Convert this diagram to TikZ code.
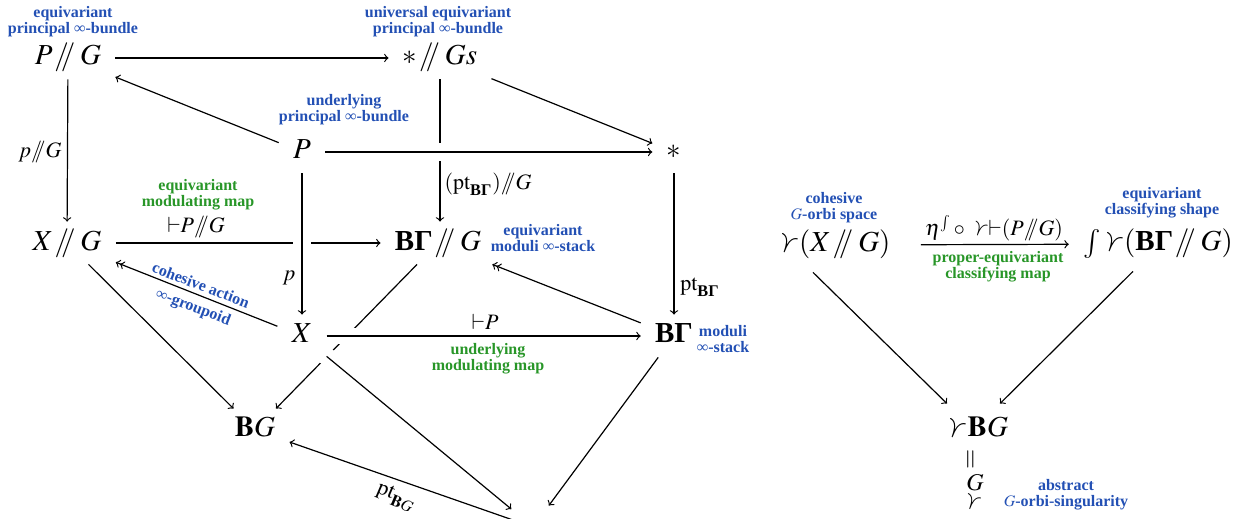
\documentclass[tikz,border=0pt]{standalone}
\usepackage{amsmath}
\usepackage{mathptmx}
\usepackage[no-math]{fontspec}
\setmainfont{Liberation Serif}
\usepackage{graphicx}
\usetikzlibrary{calc}
\definecolor{lblue}{RGB}{35,80,180}
\definecolor{lgreen}{RGB}{40,150,40}
\newcommand{\orbi}{\mathord{\rotatebox[origin=c]{70}{$\prec$}}}
\newcommand{\hq}{\mathord{\mkern1mu/\mkern-5mu/\mkern3mu}}
\newcommand{\hqs}{\mathord{/\mkern-6mu/}}
\newcommand{\BGam}{\text{\bfseries BΓ}}
\newcommand{\vd}{\mathord{\vdash}}
\begin{document}
\begin{tikzpicture}[x=0.5pt,y=-0.5pt,
  obj/.style={font=\fontsize{14.5}{17}\selectfont, inner xsep=7pt, inner ysep=4pt, text height=10pt, text depth=3pt},
  lbl/.style={font=\fontsize{11}{13}\selectfont, inner sep=0pt},
  bnote/.style={text=lblue, font=\fontsize{8}{8}\selectfont\bfseries, align=center, inner sep=0pt},
  gnote/.style={bnote, text=lgreen},
  arr/.style={->, line width=0.6pt},
  arrr/.style={->>, line width=0.6pt},
  xover/.style={preaction={draw, white, line width=#1, -}},
  xover/.default=9pt]
\useasboundingbox (0,0) rectangle (1239,519);
% objects
\node[obj] (PG) at (68,58) {$P\hq G$};
\node[obj] (sG) at (440,58) {$*\hq Gs$};
\node[obj] (P) at (302,152) {$P$};
\node[obj] (st) at (674,152) {$*$};
\node[obj] (XG) at (67,243) {$X\hq G$};
\node[obj] (BGG) at (438,243) {$\BGam\hq G$};
\node[obj] (X) at (302,336) {$X$};
\node[obj] (BGa) at (674,336) {$\BGam$};
\node[obj] (BG) at (255,430) {$\mathbf{B}G$};
\node[obj] (pt) at (533,527) {$*$};
% connectors
\draw[arr] (PG) -- (sG);
\draw[arr] (P) -- (PG);
\draw[arr] (sG) -- (sG |- BGG.north);
\draw[arr, xover] (P) -- (st);
\draw[arr] (sG) -- (st);
\draw[arr] (PG) -- (XG);
\draw[arr] (XG) -- (BGG);
\draw[arr, xover] (P) -- (X);
\draw[arrr] (X) -- (XG);
\draw[arr] (st) -- (BGa);
\draw[arr] (BGG) -- (BG);
\draw[arr, xover=8pt] (X) -- (BGa);
\draw[arr, preaction={draw, white, line width=9pt, -, shorten <=-3pt}] (X) -- (pt);
\draw[arrr] (BGa) -- (BGG);
\draw[arr] (XG) -- (BG);
\draw[arr] (BGa) -- (pt);
\draw[arr] (pt) -- (BG);
% arrow labels
\node[lbl] (l1) at (40,152) {$p\hqs G$};
\node[lbl] (l2) at (488,184) {$(\mathrm{pt}_{\BGam})\hqs G$};
\node[lbl] (l3) at (196,227) {$\vd P\hqs G$};
\node[lbl] (l4) at (289,278) {$p$};
\node[lbl] (l5) at (700,287) {$\mathrm{pt}_{\BGam}$};
\node[lbl] (l6) at (485,322) {$\vd P$};
\node[lbl, rotate=-23] (l7) at (396,497) {$\mathrm{pt}_{\mathbf{B}G}$};
% notes
\node[bnote] (n1) at (73,22) {equivariant\\principal ∞-bundle};
\node[bnote] (n2) at (438,22) {universal equivariant\\principal ∞-bundle};
\node[bnote] (n3) at (344,110) {underlying\\principal ∞-bundle};
\node[gnote] (n4) at (198,195) {equivariant\\modulating map};
\node[bnote] (n5) at (543,238) {equivariant\\moduli ∞-stack};
\node[bnote] (n6) at (723,339) {moduli\\∞-stack};
\node[bnote, rotate=-21] (n7a) at (201,285) {cohesive action};
\node[bnote, rotate=-21] (n7b) at (193,308) {∞-groupoid};
\node[gnote] (n8) at (488,359) {underlying\\modulating map};
% right part
\node[bnote] (n9) at (834,208) {cohesive\\$G$-orbi space};
\node[obj] (OX) at (833,245) {$\orbi(X\hq G)$};
\node[obj] (OB) at (1158,244) {$\mathord{\int}\orbi(\BGam\hq G)$};
\node[bnote] (n10) at (1162,203) {equivariant\\classifying shape};
\node[lbl] (l8) at (994,228) {$\eta^{\int}\circ\,\orbi\vd(P\hqs G)$};
\node[gnote] (n11) at (998,267) {proper-equivariant\\classifying map};
\node[obj] (OBG) at (976,430) {$\orbi\mathbf{B}G$};
\node[inner sep=0pt, font=\fontsize{13}{15}\selectfont] (eq) at (972,459) {\rotatebox{90}{$=$}};
\node[inner sep=0pt, font=\fontsize{12}{14}\selectfont] (g) at (975,483) {$G$};
\node[inner sep=0pt, font=\fontsize{12}{14}\selectfont] (o) at (972,503) {$\orbi$};
\node[bnote] (n12) at (1066,495) {abstract\\$G$-orbi-singularity};
\draw[arr, shorten <=8pt] (OX) -- (OB);
\draw[arr] ([xshift=-10pt,yshift=-3pt]OX.south) -- ([xshift=-14.5pt,yshift=2.5pt]OBG.north);
\draw[arr] ([xshift=-12.5pt,yshift=-3pt]OB.south) -- ([xshift=12pt,yshift=2.5pt]OBG.north);
\end{tikzpicture}
\end{document}
